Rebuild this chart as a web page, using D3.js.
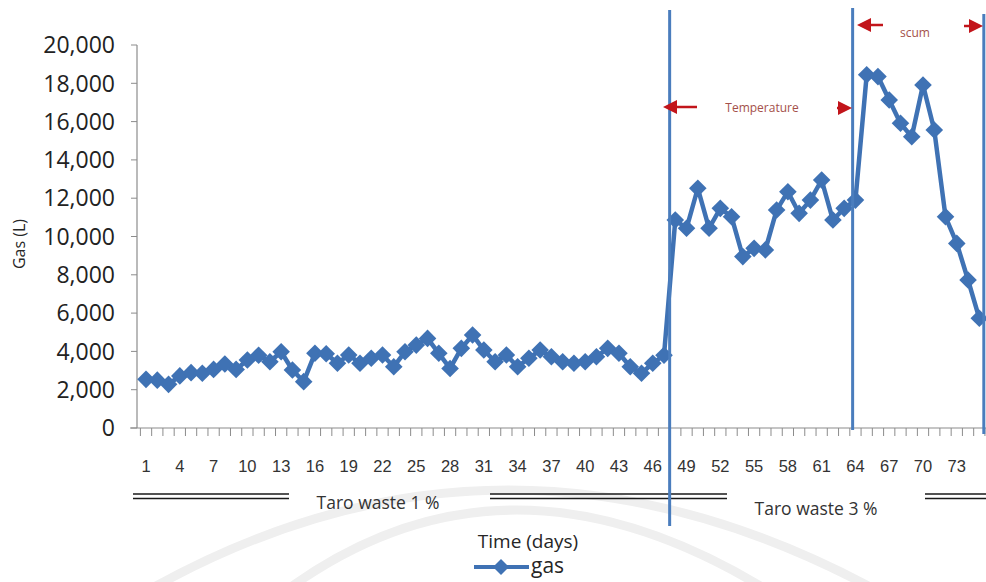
<!DOCTYPE html>
<html>
<head>
<meta charset="utf-8">
<script src="https://cdn.jsdelivr.net/npm/d3@7"></script>
<style>
  body { margin: 0; background: #fff; }
  svg { display: block; }
</style>
</head>
<body>
<script>
let width = 986,
    height = 582

// daily gas volume (L), day 1 .. 75
const gas = [2540, 2500, 2280, 2720, 2890, 2860, 3060, 3340, 3060, 3550,
             3800, 3460, 3980, 3030, 2420, 3900, 3880, 3380, 3810, 3380,
             3640, 3810, 3200, 3980, 4330, 4680, 3900, 3110, 4160, 4860,
             4070, 3460, 3810, 3200, 3640, 4070, 3720, 3460, 3380, 3460,
             3720, 4160, 3900, 3200, 2860, 3380, 3800, 10860, 10430, 12520,
             10430, 11470, 11030, 8950, 9380, 9300, 11380, 12340, 11210, 11900,
             12950, 10860, 11470, 11900, 18450, 18350, 17130, 15910, 15210, 17910,
             15560, 11030, 9640, 7730, 5730]
const days = gas.map((v, i) => i + 1)
const xTickLabels = [1, 4, 7, 10, 13, 16, 19, 22, 25, 28, 31, 34, 37, 40, 43, 46, 49, 52, 55, 58, 61, 64, 67, 70, 73]
const yTicks = [0, 2000, 4000, 6000, 8000, 10000, 12000, 14000, 16000, 18000, 20000]

// phase markers (in day units) and their labels
const phaseLines = [47.5, 63.75, 75.4]
const phaseLabels = ['Taro waste 1 %', 'Taro waste 3 %']
const notes = ['Temperature', 'scum']

const blue = '#3f72b4'
const red = '#c2151b'

let svg = d3.select('body').append('svg')
    .attr('width', width)
    .attr('height', height)

let x = d3.scaleLinear().domain([0.5, 76.5]).range([140.4, 996.2])
let y = d3.scaleLinear().domain([0, 20000]).range([428, 45])

// faint watermark arcs from the scanned page
let wm = svg.append('g').style('fill', 'none').style('stroke', '#efefef')
wm.append('path').attr('d', 'M 140 595 Q 505 385 885 595').style('stroke-width', 9)
wm.append('path').attr('d', 'M 280 595 Q 505 425 775 595').style('stroke-width', 9)

// y axis
let yAxis = svg.append('g').attr('transform', 'translate(137,0)')
yAxis.append('line').attr('y1', y(20000)).attr('y2', y(0))
    .style('stroke', '#8c8c8c').style('stroke-width', 1.2)
yAxis.selectAll('.ytick').data(yTicks).enter().append('line')
    .attr('x1', -6).attr('x2', 0)
    .attr('y1', d => y(d)).attr('y2', d => y(d))
    .style('stroke', '#8c8c8c')
yAxis.selectAll('.ylab').data(yTicks).enter().append('text')
    .attr('x', -22).attr('y', d => y(d))
    .attr('dy', '0.36em')
    .attr('text-anchor', 'end')
    .style('font-family', '"Open Sans", sans-serif')
    .style('font-size', '23px')
    .style('fill', '#222')
    .text(d => d3.format(',')(d))

svg.append('text')
    .attr('transform', 'translate(25,244) rotate(-90)')
    .attr('text-anchor', 'middle')
    .style('font-family', '"Open Sans", sans-serif')
    .style('font-size', '16px')
    .style('fill', '#262626')
    .text('Gas (L)')

// x axis
let xAxis = svg.append('g')
xAxis.append('line').attr('x1', 130).attr('x2', width)
    .attr('y1', y(0)).attr('y2', y(0))
    .style('stroke', '#8c8c8c').style('stroke-width', 1.2)
xAxis.selectAll('.xtick').data(d3.range(0.5, 77, 1)).enter().append('line')
    .attr('x1', d => x(d)).attr('x2', d => x(d))
    .attr('y1', y(0)).attr('y2', y(0) + 8)
    .style('stroke', '#8c8c8c')
xAxis.selectAll('.xlab').data(xTickLabels).enter().append('text')
    .attr('x', d => x(d)).attr('y', 466)
    .attr('dy', '0.36em')
    .attr('text-anchor', 'middle')
    .style('font-family', '"Liberation Sans", Arial, sans-serif')
    .style('font-size', '16.5px')
    .style('fill', '#333')
    .text(d => d)

svg.append('text')
    .attr('x', 528).attr('y', 548)
    .attr('text-anchor', 'middle')
    .style('font-family', '"Open Sans", sans-serif')
    .style('font-size', '19px')
    .style('fill', '#262626')
    .text('Time (days)')

// phase double lines under the axis
const doubleSegs = [[133, 289], [490, 727], [925, 990]]
let dbl = svg.append('g')
doubleSegs.forEach(s => {
  [494, 498.5].forEach(yy => {
    dbl.append('line').attr('x1', s[0]).attr('x2', s[1])
        .attr('y1', yy).attr('y2', yy)
        .style('stroke', '#1a1a1a').style('stroke-width', 1.6)
  })
})
svg.selectAll('.phase').data(phaseLabels).enter().append('text')
    .attr('x', (d, i) => [378, 816][i])
    .attr('y', (d, i) => [503, 509][i])
    .attr('dy', '0.36em')
    .attr('text-anchor', 'middle')
    .style('font-family', '"Open Sans", sans-serif')
    .style('font-size', '17.5px')
    .style('fill', '#333')
    .text(d => d)

// data line and diamonds
let line = d3.line().x((d, i) => x(days[i])).y(d => y(d))
svg.append('path').datum(gas)
    .attr('d', line)
    .style('fill', 'none')
    .style('stroke', blue)
    .style('stroke-width', 4.5)
    .style('stroke-linejoin', 'round')

const diamond = r => `M0,${-r}L${r},0L0,${r}L${-r},0Z`
svg.selectAll('.pt').data(gas).enter().append('path')
    .attr('transform', (d, i) => `translate(${x(days[i])},${y(d)})`)
    .attr('d', diamond(8.8))
    .style('fill', blue)

// vertical phase lines
svg.selectAll('.vline').data(phaseLines).enter().append('line')
    .attr('x1', d => x(d)).attr('x2', d => x(d))
    .attr('y1', (d, i) => [10, 8, 14][i])
    .attr('y2', (d, i) => [526, 430, 434][i])
    .style('stroke', '#4a7dbd')
    .style('stroke-width', 3)

// red arrows
function arrow(x1, x2, yy) {
  let dir = Math.sign(x2 - x1)
  let g = svg.append('g')
  g.append('line').attr('x1', x1).attr('x2', x2 - dir * 10)
      .attr('y1', yy).attr('y2', yy)
      .style('stroke', red).style('stroke-width', 2.5)
  g.append('path')
      .attr('d', `M${x2},${yy}L${x2 - dir * 14},${yy - 7}L${x2 - dir * 14},${yy + 7}Z`)
      .style('fill', red)
}
arrow(697, 663, 107)
arrow(837, 852, 108)
arrow(883, 857, 25)
arrow(964, 983, 26)

svg.selectAll('.note').data(notes).enter().append('text')
    .attr('x', (d, i) => [762, 915][i])
    .attr('y', (d, i) => [108, 33][i])
    .attr('dy', '0.36em')
    .attr('text-anchor', 'middle')
    .style('font-family', '"Open Sans", sans-serif')
    .style('font-size', '12px')
    .style('fill', '#a4504a')
    .text(d => d)

// legend
let legend = svg.append('g').attr('transform', 'translate(474,567)')
legend.append('line').attr('x1', 0).attr('x2', 55)
    .style('stroke', blue).style('stroke-width', 4)
legend.append('path').attr('transform', 'translate(27,0)')
    .attr('d', diamond(8)).style('fill', blue)
legend.append('text').attr('x', 57).attr('y', 0)
    .attr('dy', '0.3em')
    .style('font-family', '"Open Sans", sans-serif')
    .style('font-size', '21px')
    .style('fill', '#262626')
    .text('gas')
</script>
</body>
</html>
